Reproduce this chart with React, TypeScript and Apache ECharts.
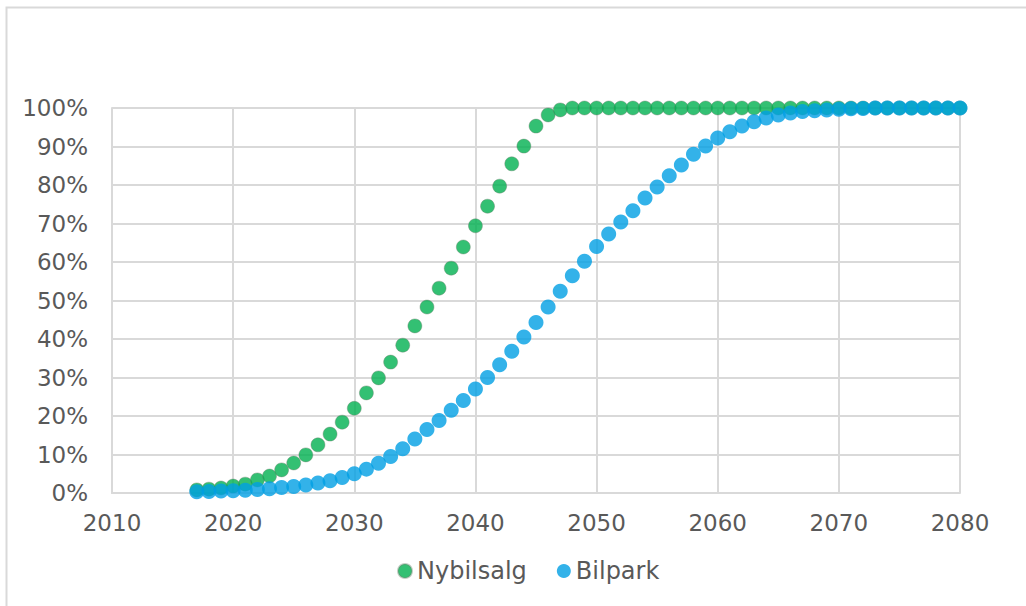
import React, { useEffect, useRef } from "react";
import * as echarts from "echarts";

const years: number[] = [];
for (let y = 2017; y <= 2080; y++) years.push(y);

const nybilsalg = [
  0.8, 1.0, 1.3, 1.8, 2.3, 3.4, 4.4, 6.0, 7.8, 9.9,
  12.5, 15.3, 18.4, 22.0, 26.0, 29.9, 34.0, 38.4, 43.4, 48.3,
  53.2, 58.4, 63.9, 69.4, 74.5, 79.7, 85.5, 90.1, 95.3, 98.2,
  99.5, 100, 100, 100, 100, 100, 100, 100, 100, 100,
  100, 100, 100, 100, 100, 100, 100, 100, 100, 100,
  100, 100, 100, 100, 100, 100, 100, 100, 100, 100,
  100, 100, 100, 100,
];

const bilpark = [
  0.3, 0.4, 0.5, 0.6, 0.7, 0.9, 1.1, 1.4, 1.7, 2.1,
  2.6, 3.2, 4.0, 5.0, 6.2, 7.7, 9.5, 11.5, 14.0, 16.5,
  18.8, 21.5, 24.0, 27.0, 30.0, 33.3, 36.8, 40.5, 44.3, 48.3,
  52.4, 56.4, 60.2, 64.0, 67.3, 70.4, 73.3, 76.6, 79.5, 82.4,
  85.2, 88.0, 90.1, 92.2, 93.8, 95.3, 96.4, 97.4, 98.2, 98.7,
  99.1, 99.3, 99.5, 99.7, 99.8, 99.9, 100, 100, 100, 100,
  100, 100, 100, 100,
];

const seriesNames = ["Nybilsalg", "Bilpark"];
const xTicks = { min: 2010, max: 2080, interval: 10 };

export default function App() {
  const ref = useRef<HTMLDivElement>(null);
  useEffect(() => {
    if (!ref.current) return;
    const chart = echarts.init(ref.current, undefined, { renderer: "svg" });
    const font = "DejaVu Sans, Verdana, sans-serif";
    chart.setOption({
      animation: false,
      backgroundColor: "#ffffff",
      textStyle: { fontFamily: font },
      graphic: [
        {
          type: "rect",
          shape: { x: 6.5, y: 7.5, width: 1200, height: 800 },
          style: { fill: "none", stroke: "#d9d9d9", lineWidth: 2 },
          silent: true,
        },
      ],
      grid: { left: 112, right: 66, top: 108, bottom: 113 },
      legend: {
        bottom: 18,
        left: 392,
        itemWidth: 14,
        itemHeight: 14,
        itemGap: 30,
        textStyle: { fontSize: 24, color: "#595959", fontFamily: font },
        data: [
          { name: seriesNames[0], icon: "circle" },
          { name: seriesNames[1], icon: "circle" },
        ],
      },
      xAxis: {
        type: "value",
        min: xTicks.min,
        max: xTicks.max,
        interval: xTicks.interval,
        axisLine: { show: true, lineStyle: { color: "#d9d9d9", width: 2 } },
        axisTick: { show: false },
        axisLabel: {
          fontSize: 23,
          color: "#595959",
          margin: 18,
          fontFamily: font,
          formatter: (v: number) => String(v),
        },
        splitLine: { show: true, lineStyle: { color: "#d9d9d9", width: 2 } },
      },
      yAxis: {
        type: "value",
        min: 0,
        max: 100,
        interval: 10,
        axisLine: { show: true, lineStyle: { color: "#d9d9d9", width: 2 } },
        axisTick: { show: false },
        axisLabel: {
          fontSize: 23,
          color: "#595959",
          margin: 24,
          fontFamily: font,
          formatter: (v: number) => `${v}%`,
        },
        splitLine: { show: true, lineStyle: { color: "#d9d9d9", width: 2 } },
      },
      series: [
        {
          name: seriesNames[0],
          type: "scatter",
          symbol: "circle",
          symbolSize: 14,
          itemStyle: { color: "#00B050", borderColor: "rgba(110,130,110,0.5)", borderWidth: 1 },
          data: years.map((y, i) => [y, nybilsalg[i]]),
        },
        {
          name: seriesNames[1],
          type: "scatter",
          symbol: "circle",
          symbolSize: 15,
          itemStyle: { color: "#009FE3" },
          data: years.map((y, i) => [y, bilpark[i]]),
        },
      ],
    });
    return () => chart.dispose();
  }, []);
  return (
    <div
      ref={ref}
      style={{ position: "fixed", left: 0, top: 0, width: 1026, height: 606 }}
    />
  );
}
